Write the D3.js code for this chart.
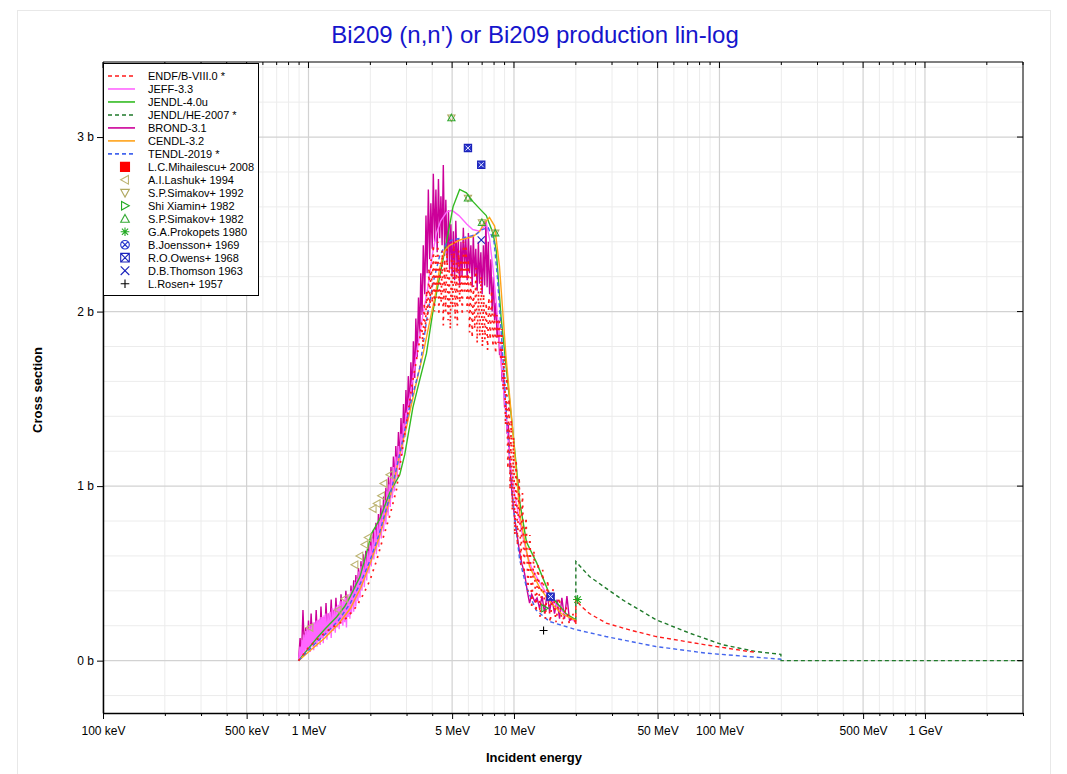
<!DOCTYPE html>
<html><head><meta charset="utf-8">
<script src="https://cdn.jsdelivr.net/npm/d3@7"></script>
<style>body{margin:0;background:#fff;} text{font-family:Arial,"Liberation Sans",sans-serif;}</style>
</head><body><svg id="c" width="1067" height="774"></svg>
<script>
// ---------- DATA (energy in MeV, cross section in barns) ----------
const xTickVals = [0.1, 0.5, 1, 5, 10, 50, 100, 500, 1000];
const xTickLabels = ["100 keV", "500 keV", "1 MeV", "5 MeV", "10 MeV", "50 MeV", "100 MeV", "500 MeV", "1 GeV"];
const yTickVals = [0, 1, 2, 3];
const yTickLabels = ["0 b", "1 b", "2 b", "3 b"];

const endf = [[0.895,0],[0.95,0.04],[1.0,0.075],[1.1,0.12],[1.2,0.16],[1.3,0.19],[1.42,0.215],[1.55,0.25],[1.71,0.31],[1.85,0.38],[1.99,0.46],[2.14,0.57],[2.29,0.69],[2.5,0.84],[2.68,0.98],[2.88,1.23],[3.05,1.42],[3.2,1.59],[3.35,1.72],[3.48,1.84],
[3.55,1.95],[3.6,1.80],[3.66,2.05],[3.7,1.88],[3.76,2.12],[3.8,1.95],[3.86,2.25],[3.9,2.02],[3.95,2.30],[4.0,2.05],[4.05,2.38],[4.1,2.0],[4.16,2.32],[4.2,2.08],[4.26,2.40],[4.31,1.98],[4.37,2.28],[4.42,2.05],[4.48,2.35],[4.53,1.92],[4.6,2.30],[4.65,2.0],[4.72,2.36],[4.78,1.95],[4.84,2.25],[4.9,1.90],[4.97,2.33],[5.03,2.02],[5.1,2.40],[5.17,1.96],[5.24,2.28],[5.3,1.92],[5.38,2.35],[5.45,2.05],[5.52,2.30],[5.6,1.98],[5.68,2.40],[5.76,2.10],[5.84,2.38],[5.92,2.0],[6.0,2.30],[6.08,1.88],[6.17,2.20],[6.26,1.85],[6.35,2.15],[6.44,1.90],[6.53,2.25],[6.62,1.82],[6.72,2.12],[6.82,1.86],[6.92,2.20],[7.02,1.80],[7.12,2.10],[7.22,1.84],[7.33,2.05],[7.44,1.78],[7.55,2.08],[7.66,1.84],[7.78,2.12],[7.9,1.80],[8.02,2.00],[8.14,1.76],[8.26,1.98],[8.38,1.82],[8.5,1.96],
[8.62,1.72],[8.74,1.90],[8.86,1.55],[8.98,1.75],[9.1,1.35],[9.22,1.62],[9.34,1.10],[9.46,1.50],[9.58,0.98],[9.7,1.38],[9.82,0.86],[9.95,1.28],[10.1,0.72],[10.25,1.15],[10.4,0.66],[10.6,1.05],[10.8,0.55],[11.0,0.96],[11.2,0.50],[11.45,0.82],[11.7,0.40],[11.95,0.72],[12.2,0.30],[12.5,0.63],[12.8,0.28],[13.1,0.56],[13.4,0.25],[13.8,0.52],[14.2,0.24],[14.6,0.46],[15.0,0.22],[15.5,0.41],[16.0,0.22],[16.6,0.36],[17.2,0.21],[17.9,0.31],[18.6,0.21],[19.3,0.27],[20.0,0.21],
[20.0,0.35],[21.3,0.31],[23.3,0.27],[28.1,0.215],[36.5,0.176],[49.2,0.138],[86.1,0.09],[139.7,0.052],[150,0.048]];

const jeff = [[0.895,0],[0.91,0.08],[0.92,0.01],[0.93,0.12],[0.94,0.03],[0.95,0.15],[0.96,0.04],[0.97,0.17],[0.98,0.05],[0.99,0.18],[1.0,0.06],[1.01,0.20],[1.02,0.05],[1.03,0.21],[1.04,0.08],[1.05,0.22],[1.06,0.06],[1.07,0.22],[1.08,0.10],[1.09,0.23],[1.10,0.08],[1.11,0.23],[1.12,0.11],[1.13,0.24],[1.14,0.09],[1.15,0.25],[1.16,0.13],[1.17,0.25],[1.18,0.10],[1.19,0.26],[1.20,0.14],[1.215,0.27],[1.23,0.12],[1.245,0.27],[1.26,0.15],[1.275,0.28],[1.29,0.13],[1.305,0.30],[1.32,0.17],[1.335,0.30],[1.35,0.16],[1.365,0.31],[1.38,0.19],[1.395,0.32],[1.41,0.18],[1.425,0.34],[1.44,0.21],[1.455,0.34],[1.47,0.20],[1.485,0.35],[1.50,0.22],[1.515,0.36],[1.53,0.19],[1.545,0.37],[1.56,0.25],[1.575,0.38],[1.59,0.24],[1.605,0.40],[1.62,0.27],[1.64,0.42],[1.66,0.28],[1.68,0.45],[1.70,0.31],[1.72,0.47],[1.74,0.34],[1.76,0.51],[1.78,0.36],[1.80,0.54],[1.82,0.40],[1.845,0.57],[1.87,0.42],[1.895,0.60],[1.92,0.46],[1.945,0.63],[1.97,0.50],[1.995,0.66],[2.02,0.54],[2.05,0.70],[2.08,0.58],[2.11,0.75],[2.14,0.61],[2.17,0.79],[2.20,0.65],[2.23,0.83],[2.26,0.70],[2.29,0.88],[2.32,0.74],[2.35,0.92],[2.38,0.78],[2.41,0.97],[2.44,0.83],[2.47,1.01],[2.50,0.88],[2.53,1.06],[2.56,0.93],[2.59,1.11],[2.62,0.97],[2.66,1.17],[2.70,1.04],[2.74,1.23],[2.78,1.10],[2.82,1.30],[2.86,1.18],[2.90,1.36],[2.94,1.30],[2.98,1.42],[3.0,1.40],[3.2,1.60],[3.4,1.80],[3.6,1.98],[3.8,2.13],[4.0,2.32],[4.2,2.45],[4.4,2.52],[4.7,2.57],[5.0,2.58],[5.4,2.55],[5.9,2.50],[6.3,2.47],[6.8,2.46],[7.1,2.48],[7.35,2.50],[7.6,2.42],[7.9,2.25],[8.2,2.05],[8.6,1.75],[9.15,1.40],[9.5,1.18],[9.9,1.00],[10.5,0.84],[11.0,0.72],[11.5,0.62],[12.2,0.53],[13.3,0.45],[14.5,0.38],[16,0.32],[18,0.26],[20,0.22]];

const jendl4 = [[0.895,0],[1.0,0.07],[1.1,0.13],[1.2,0.18],[1.37,0.25],[1.5,0.31],[1.6,0.37],[1.71,0.44],[1.78,0.48],[1.9,0.60],[2.02,0.725],[2.22,0.81],[2.49,0.965],[2.78,1.065],[2.94,1.18],[3.22,1.45],[3.48,1.61],[3.75,1.76],[4.03,2.00],[4.35,2.20],[4.68,2.39],[5.05,2.60],[5.44,2.70],[5.87,2.68],[6.32,2.63],[6.80,2.59],[7.33,2.55],[7.9,2.45],[8.2,2.35],[8.65,1.97],[9.15,1.69],[9.9,1.30],[10.7,0.90],[11.5,0.68],[12.9,0.56],[14.9,0.38],[17.9,0.27],[20,0.234]];

const jendlHE = [[20,0.23],[20,0.568],[23.3,0.482],[33.8,0.348],[49.2,0.234],[71.4,0.158],[103.7,0.091],[150.6,0.052],[199,0.036],[199.5,0],[3000,0]];

const brond = [[0.895,0],[0.91,0.13],[0.925,0.04],[0.94,0.29],[0.955,0.07],[0.97,0.19],[0.985,0.06],[1.0,0.23],[1.015,0.09],[1.03,0.27],[1.045,0.10],[1.06,0.21],[1.075,0.12],[1.09,0.29],[1.105,0.13],[1.12,0.23],[1.135,0.12],[1.15,0.31],[1.167,0.16],[1.185,0.25],[1.2,0.15],[1.217,0.33],[1.234,0.17],[1.25,0.27],[1.27,0.18],[1.29,0.35],[1.305,0.19],[1.32,0.29],[1.34,0.20],[1.36,0.36],[1.38,0.22],[1.40,0.30],[1.42,0.23],[1.44,0.38],[1.46,0.25],[1.48,0.32],[1.50,0.26],[1.52,0.40],[1.545,0.28],[1.57,0.36],[1.59,0.30],[1.61,0.43],[1.635,0.32],[1.66,0.46],[1.68,0.35],[1.70,0.49],[1.73,0.38],[1.75,0.53],[1.78,0.42],[1.80,0.57],[1.83,0.45],[1.85,0.61],[1.88,0.48],[1.90,0.63],[1.93,0.52],[1.96,0.67],[1.99,0.55],[2.01,0.71],[2.04,0.60],[2.07,0.75],[2.10,0.64],[2.13,0.79],[2.16,0.68],[2.19,0.84],[2.22,0.72],[2.25,0.89],[2.29,0.76],[2.32,0.94],[2.35,0.80],[2.38,0.99],[2.42,0.85],[2.45,1.05],[2.49,0.90],[2.52,1.11],[2.56,0.96],[2.59,1.17],[2.63,1.02],[2.66,1.23],[2.70,1.08],[2.74,1.31],[2.78,1.14],[2.82,1.39],[2.86,1.20],[2.90,1.47],[2.94,1.28],[2.98,1.55],[3.02,1.36],[3.06,1.63],[3.11,1.44],[3.15,1.71],[3.20,1.52],[3.24,1.83],[3.29,1.62],[3.33,1.96],[3.38,1.74],[3.43,2.08],[3.48,1.86],[3.52,2.22],[3.57,1.98],[3.62,2.38],[3.68,2.10],[3.73,2.55],[3.78,2.22],[3.83,2.70],[3.89,2.30],[3.94,2.62],[4.00,2.36],[4.05,2.79],[4.11,2.40],[4.17,2.70],[4.23,2.34],[4.29,2.76],[4.35,2.42],[4.41,2.66],[4.47,2.38],[4.53,2.84],[4.60,2.32],[4.66,2.64],[4.73,2.28],[4.80,2.58],[4.86,2.24],[4.93,2.50],[5.00,2.20],[5.07,2.46],[5.14,2.18],[5.21,2.52],[5.29,2.22],[5.36,2.42],[5.44,2.15],[5.52,2.40],[5.59,2.20],[5.67,2.48],[5.75,2.25],[5.83,2.42],[5.92,2.18],[6.00,2.45],[6.08,2.22],[6.17,2.38],[6.26,2.14],[6.34,2.44],[6.43,2.20],[6.52,2.36],[6.62,2.12],[6.71,2.40],[6.80,2.16],[6.90,2.34],[7.00,2.10],[7.10,2.38],[7.20,2.15],[7.30,2.52],[7.40,2.14],[7.50,2.40],[7.61,2.10],[7.72,2.30],[7.83,2.00],[7.94,2.20],[8.05,1.95],[8.16,2.05],[8.28,1.85],[8.39,1.95],[8.51,1.75],[8.63,1.80],[8.75,1.60],[8.88,1.65],[9.00,1.45],[9.13,1.48],[9.26,1.30],[9.39,1.35],[9.52,1.15],[9.65,1.05],[9.79,0.95],[10.07,0.82],[10.35,0.72],[10.65,0.62],[10.95,0.55],[11.26,0.50],[11.6,0.40],[11.91,0.33],[12.2,0.38],[12.6,0.34],[12.95,0.36],[13.32,0.30],[13.7,0.37],[14.09,0.27],[14.5,0.39],[14.9,0.28],[15.3,0.36],[15.75,0.27],[16.2,0.35],[16.66,0.24],[17.1,0.36],[17.62,0.24],[18.1,0.37],[18.64,0.23],[19.3,0.24],[20.0,0.22]];

const cendl = [[0.895,0],[1.0,0.05],[1.2,0.13],[1.4,0.21],[1.6,0.30],[1.8,0.42],[2.0,0.56],[2.2,0.70],[2.4,0.86],[2.6,1.02],[2.78,1.18],[3.0,1.34],[3.3,1.56],[3.6,1.75],[3.9,1.95],[4.12,2.08],[4.35,2.25],[4.6,2.35],[4.86,2.38],[5.44,2.41],[6.32,2.43],[6.80,2.46],[7.2,2.51],[7.6,2.54],[8.05,2.49],[8.5,2.26],[9.15,1.74],[9.9,1.30],[10.7,0.83],[11.9,0.54],[13.3,0.42],[14.9,0.34],[17,0.27],[20,0.23]];

const tendl = [[0.895,0],[1.0,0.06],[1.2,0.15],[1.4,0.23],[1.6,0.33],[1.8,0.45],[2.0,0.58],[2.2,0.72],[2.5,0.95],[2.8,1.2],[3.1,1.45],[3.48,1.68],[3.78,1.97],[4.03,2.16],[4.35,2.32],[4.68,2.39],[5.0,2.41],[5.5,2.42],[6.0,2.43],[6.5,2.44],[7.0,2.47],[7.5,2.48],[8.0,2.40],[8.3,2.20],[8.67,1.88],[9.52,1.15],[9.9,0.90],[10.65,0.58],[11.5,0.42],[12.8,0.29],[14.9,0.224],[20,0.178],[28,0.138],[49,0.081],[86,0.043],[195,0.009],[200,0.008]];

// experimental points
const mihailescu = [];
const lashuk = [[1.015,0.19],[1.393,0.29],[1.50,0.355],[1.68,0.55],[1.776,0.60],[1.878,0.665],[1.949,0.705],[2.061,0.87],[2.155,0.90],[2.264,0.945],[2.323,1.015],[2.485,1.065]];
const simakov92 = [[4.96,3.11],[5.97,2.65],[6.98,2.51],[8.11,2.45]];
const shiXiamin = [[14.1,0.30]];
const simakov82 = [[4.96,3.11],[5.97,2.65],[6.98,2.51],[8.11,2.45]];
const prokopets = [[20.4,0.35]];
const joensson = [];
const owens = [[5.97,2.937],[6.93,2.841],[15.07,0.367]];
const thomson = [[6.93,2.41]];
const rosen = [[13.93,0.173]];

// ---------- CHART ----------
const L = 103, R = 1023, T = 62, B = 713;
const svg = d3.select("#c");
const x = d3.scaleLog().domain([0.1, 3000]).range([L, R]);
const y = d3.scaleLinear().domain([-0.3, 3.43]).range([B, T]);

svg.append("rect").attr("x", 17.5).attr("y", 10.5).attr("width", 1033).attr("height", 780)
  .attr("fill", "#fff").attr("stroke", "#e8e8e8");

svg.append("text").attr("x", 535).attr("y", 43).attr("text-anchor", "middle")
  .attr("font-size", 24).attr("fill", "#1515cc").text("Bi209 (n,n') or Bi209 production lin-log");

// grid
const grid = svg.append("g");
const minorX = [];
[0.1, 1, 10, 100, 1000].forEach(d => { for (let m = 1; m <= 9; m++) { const v = d * m; if (v <= 3000) minorX.push(v); } });
grid.selectAll(".gxm").data(minorX.filter(v => !xTickVals.includes(v))).enter().append("line")
  .attr("x1", d => x(d)).attr("x2", d => x(d)).attr("y1", T).attr("y2", B)
  .attr("stroke", "#ececec").attr("stroke-width", 1);
const minorY = d3.range(-0.2, 3.43, 0.2).filter(v => Math.abs(v - Math.round(v)) > 0.01);
grid.selectAll(".gym").data(minorY).enter().append("line")
  .attr("x1", L).attr("x2", R).attr("y1", d => y(d)).attr("y2", d => y(d))
  .attr("stroke", "#ececec").attr("stroke-width", 1);
grid.selectAll(".gxM").data(xTickVals).enter().append("line")
  .attr("x1", d => x(d)).attr("x2", d => x(d)).attr("y1", T).attr("y2", B)
  .attr("stroke", "#d2d2d2").attr("stroke-width", 1.2);
grid.selectAll(".gyM").data(yTickVals).enter().append("line")
  .attr("x1", L).attr("x2", R).attr("y1", d => y(d)).attr("y2", d => y(d))
  .attr("stroke", "#d2d2d2").attr("stroke-width", 1.2);

svg.append("clipPath").attr("id", "clip").append("rect")
  .attr("x", L).attr("y", T).attr("width", R - L).attr("height", B - T);
const plot = svg.append("g").attr("clip-path", "url(#clip)");

const line = d3.line().x(d => x(d[0])).y(d => y(d[1]));
const series = [
  {name: "ENDF/B-VIII.0 *", data: endf, color: "#ff1a1a", dash: "2,5", w: 1.7, z: 7},
  {name: "JEFF-3.3", data: jeff, color: "#ff66ff", dash: null, w: 1.4, z: 2},
  {name: "JENDL-4.0u", data: jendl4, color: "#33bb22", dash: null, w: 1.4, z: 3},
  {name: "JENDL/HE-2007 *", data: jendlHE, color: "#1f7a2a", dash: "4,3", w: 1.4, z: 4},
  {name: "BROND-3.1", data: brond, color: "#cc0099", dash: null, w: 1.4, z: 1},
  {name: "CENDL-3.2", data: cendl, color: "#ffa31a", dash: null, w: 1.4, z: 5},
  {name: "TENDL-2019 *", data: tendl, color: "#4466ee", dash: "4,3", w: 1.4, z: 6}
];
series.slice().sort((a, b) => a.z - b.z).forEach(s => {
  if (s.data === endf) {
    // fine-structure part (below 20 MeV) renders as sparse dots, the smooth tail as dashes
    const cut = endf.findIndex((d, i) => i > 0 && d[0] === endf[i - 1][0]);
    plot.append("path").datum(endf.slice(0, cut)).attr("d", line).attr("fill", "none")
      .attr("stroke", s.color).attr("stroke-width", s.w).attr("stroke-dasharray", s.dash);
    plot.append("path").datum(endf.slice(cut - 1)).attr("d", line).attr("fill", "none")
      .attr("stroke", s.color).attr("stroke-width", 1.4).attr("stroke-dasharray", "4,3");
    return;
  }
  plot.append("path").datum(s.data).attr("d", line).attr("fill", "none")
    .attr("stroke", s.color).attr("stroke-width", s.w)
    .attr("stroke-dasharray", s.dash);
});

function markerPath(type, s) {
  switch (type) {
    case "triUp": return `M0,${-s}L${s},${s*0.8}L${-s},${s*0.8}Z`;
    case "triDown": return `M0,${s}L${s},${-s*0.8}L${-s},${-s*0.8}Z`;
    case "triLeft": return `M${-s},0L${s*0.8},${-s}L${s*0.8},${s}Z`;
    case "triRight": return `M${s},0L${-s*0.8},${-s}L${-s*0.8},${s}Z`;
    case "x": return `M${-s},${-s}L${s},${s}M${-s},${s}L${s},${-s}`;
    case "plus": return `M${-s},0L${s},0M0,${-s}L0,${s}`;
    case "asterisk": { const k = s * 0.72; return `M${-s},0L${s},0M0,${-s}L0,${s}M${-k},${-k}L${k},${k}M${-k},${k}L${k},${-k}`; }
    case "boxX": return `M${-s},${-s}H${s}V${s}H${-s}ZM${-s},${-s}L${s},${s}M${-s},${s}L${s},${-s}`;
    case "box": return `M${-s},${-s}H${s}V${s}H${-s}Z`;
    case "diag": return `M${-s},${-s}L${s},${s}M${-s},${s}L${s},${-s}`;
    case "circleX": { const k = s * 0.7; return `M${s},0A${s},${s},0,1,1,${-s},0A${s},${s},0,1,1,${s},0ZM${-k},${-k}L${k},${k}M${-k},${k}L${k},${-k}`; }
    case "square": return `M${-s},${-s}H${s}V${s}H${-s}Z`;
  }
}
const expSets = [
  {name: "L.C.Mihailescu+ 2008", data: mihailescu, type: "square", color: "#ff0000", fill: "#ff0000", s: 3.5},
  {name: "A.I.Lashuk+ 1994", data: lashuk, type: "triLeft", color: "#bdb472", fill: "none", s: 3.8},
  {name: "S.P.Simakov+ 1992", data: simakov92, type: "triDown", color: "#b0a860", fill: "none", s: 3.6},
  {name: "Shi Xiamin+ 1982", data: shiXiamin, type: "triRight", color: "#22aa22", fill: "none", s: 3.6},
  {name: "S.P.Simakov+ 1982", data: simakov82, type: "triUp", color: "#33aa33", fill: "none", s: 3.6},
  {name: "G.A.Prokopets 1980", data: prokopets, type: "asterisk", color: "#22aa22", fill: "none", s: 4.5},
  {name: "B.Joensson+ 1969", data: joensson, type: "circleX", color: "#2233cc", fill: "none", s: 3.6},
  {name: "R.O.Owens+ 1968", data: owens, type: "boxX", color: "#1a22bb", fill: "none", s: 3.6},
  {name: "D.B.Thomson 1963", data: thomson, type: "x", color: "#1a22bb", fill: "none", s: 3.6},
  {name: "L.Rosen+ 1957", data: rosen, type: "plus", color: "#000000", fill: "none", s: 4}
];
expSets.forEach(e => {
  const g = plot.selectAll(null).data(e.data).enter().append("g")
    .attr("transform", d => `translate(${x(d[0])},${y(d[1])})`);
  if (e.type === "boxX") {
    g.append("path").attr("d", markerPath("box", e.s)).attr("fill", "#2a35c8").attr("stroke", "#1a22bb").attr("stroke-width", 1.2);
    g.append("path").attr("d", markerPath("diag", e.s * 0.7)).attr("stroke", "#dfe4ff").attr("stroke-width", 1);
  } else {
    g.append("path").attr("d", markerPath(e.type, e.s))
      .attr("fill", e.fill).attr("stroke", e.color).attr("stroke-width", 1.1);
  }
});

// axes
const axB = d3.axisBottom(x).tickValues(xTickVals).tickFormat((d, i) => xTickLabels[i]).tickSize(6).tickSizeOuter(0);
const gB = svg.append("g").attr("transform", `translate(0,${B})`).call(axB);
gB.selectAll("text").attr("font-size", 12).attr("fill", "#000").attr("dy", "1.05em")
  .style("font-family", "Arial, 'Liberation Sans', sans-serif");
const axBm = d3.axisBottom(x).tickValues(minorX.filter(v => !xTickVals.includes(v))).tickFormat("").tickSize(3).tickSizeOuter(0);
svg.append("g").attr("transform", `translate(0,${B})`).call(axBm).select(".domain").remove();
const axL = d3.axisLeft(y).tickValues(yTickVals).tickFormat((d, i) => yTickLabels[i]).tickSize(6).tickSizeOuter(0);
const gL = svg.append("g").attr("transform", `translate(${L},0)`).call(axL);
gL.selectAll("text").attr("font-size", 12).attr("fill", "#000")
  .style("font-family", "Arial, 'Liberation Sans', sans-serif");
svg.append("line").attr("x1", L).attr("x2", R).attr("y1", T).attr("y2", T).attr("stroke", "#000");
svg.append("line").attr("x1", R).attr("x2", R).attr("y1", T).attr("y2", B).attr("stroke", "#000");
svg.selectAll(".domain").attr("stroke", "#000").attr("stroke-width", 1.5);
svg.append("g").selectAll("line").data(minorX).enter().append("line")
  .attr("x1", d => x(d)).attr("x2", d => x(d)).attr("y1", T).attr("y2", d => T + (xTickVals.includes(d) ? 6 : 3)).attr("stroke", "#000");
svg.append("g").selectAll("line").data(yTickVals).enter().append("line")
  .attr("x1", R - 6).attr("x2", R).attr("y1", d => y(d)).attr("y2", d => y(d)).attr("stroke", "#000");

svg.append("text").attr("x", 534).attr("y", 762).attr("text-anchor", "middle")
  .attr("font-size", 13).attr("font-weight", "bold").text("Incident energy");
svg.append("text").attr("transform", "translate(42,390) rotate(-90)").attr("text-anchor", "middle")
  .attr("font-size", 13).attr("font-weight", "bold").text("Cross section");

// legend
const lg = svg.append("g");
lg.append("rect").attr("x", L + 0.5).attr("y", 63.5).attr("width", 155).attr("height", 232)
  .attr("fill", "#fff").attr("stroke", "#000").attr("stroke-width", 1);
const rowY = i => 76 + i * 12.98;
series.forEach((s, i) => {
  lg.append("line").attr("x1", 108).attr("x2", 135).attr("y1", rowY(i)).attr("y2", rowY(i))
    .attr("stroke", s.color).attr("stroke-width", 1.6).attr("stroke-dasharray", s.dash ? "4,3" : null);
  lg.append("text").attr("x", 148).attr("y", rowY(i)).attr("dy", "0.35em").attr("font-size", 11).text(s.name);
});
expSets.forEach((e, j) => {
  const i = j + series.length;
  lg.append("path").attr("transform", `translate(125,${rowY(i)})`)
    .attr("d", markerPath(e.type, e.type === "square" ? 4.5 : 4.3))
    .attr("fill", e.fill).attr("stroke", e.color).attr("stroke-width", 1.1);
  lg.append("text").attr("x", 148).attr("y", rowY(i)).attr("dy", "0.35em").attr("font-size", 11).text(e.name);
});
</script></body></html>
